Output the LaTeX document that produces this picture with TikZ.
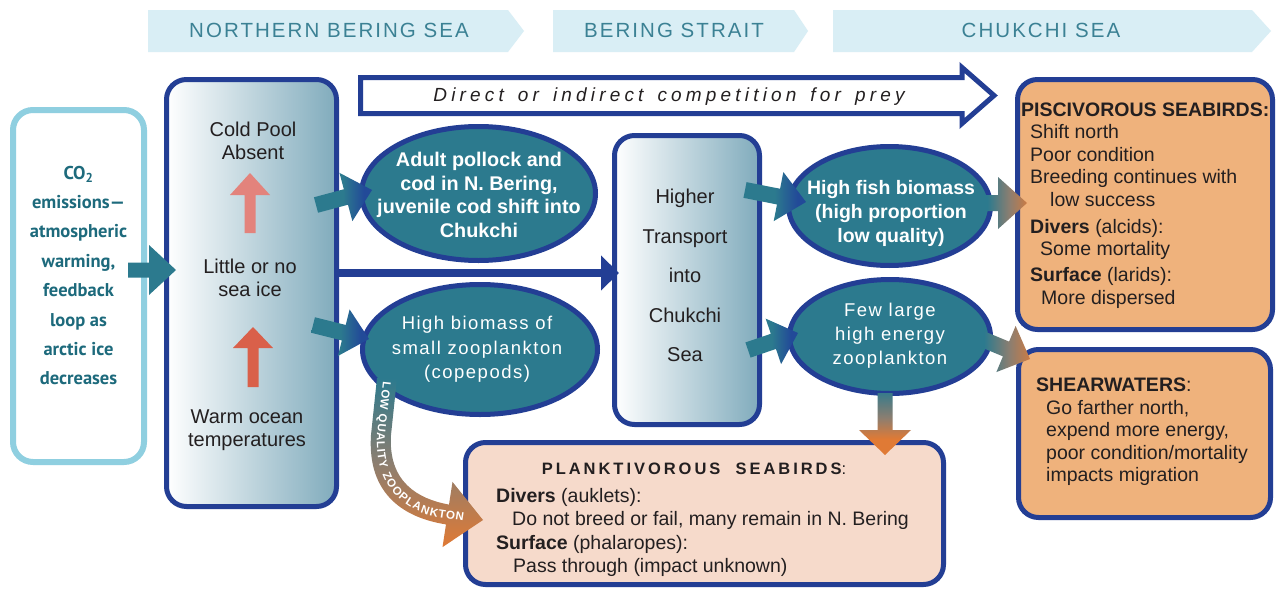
\documentclass[tikz,border=0pt]{standalone}
\usepackage{fontspec}
\setmainfont{Liberation Sans}
\newfontfamily\cofont{PT Sans}
\newfontfamily\bannerfont[LetterSpace=10]{Liberation Sans}
\newfontfamily\dirfont[LetterSpace=22]{Liberation Sans}
\newfontfamily\ellfont[LetterSpace=8]{Liberation Sans}
\newfontfamily\plankfont[LetterSpace=18]{Liberation Sans}
\usetikzlibrary{calc,shapes.geometric,arrows.meta,decorations.text}

\definecolor{navyb}{RGB}{35,62,148}
\definecolor{tealf}{RGB}{44,122,142}
\definecolor{bannerf}{RGB}{217,238,245}
\definecolor{bannert}{RGB}{59,129,148}
\definecolor{cobord}{RGB}{143,207,224}
\definecolor{cotext}{RGB}{29,106,124}
\definecolor{gradr}{RGB}{128,171,188}
\definecolor{pisc}{RGB}{239,178,124}
\definecolor{plank}{RGB}{246,218,203}
\definecolor{orangea}{RGB}{224,122,53}
\definecolor{greymid}{RGB}{140,126,112}
\definecolor{salmona}{RGB}{227,131,124}
\definecolor{salmonb}{RGB}{217,96,74}
\definecolor{darktext}{RGB}{35,31,32}
\definecolor{headblue}{RGB}{34,74,152}

\pgfdeclarehorizontalshading{tealblue}{100bp}{color(0bp)=(tealf); color(50bp)=(tealf); color(68bp)=(headblue); color(100bp)=(headblue)}
\pgfdeclarehorizontalshading{tealorange}{100bp}{color(0bp)=(tealf); color(30bp)=(tealf); color(55bp)=(greymid); color(82bp)=(orangea); color(100bp)=(orangea)}
\pgfdeclarehorizontalshading{tealorangedown}{100bp}{color(0bp)=(tealf); color(22bp)=(tealf); color(45bp)=(greymid); color(62bp)=(orangea); color(100bp)=(orangea)}

% block arrow: #1 style, #2 start, #3 tip, #4 half shaft, #5 half head, #6 head length
\newcommand\blkarr[6]{%
  \coordinate (ba-h) at ($(#3)!#6!(#2)$);
  \path[#1] ($(#2)!#4!90:(#3)$) -- ($(ba-h)!#4!90:(#3)$) -- ($(ba-h)!#5!90:(#3)$) -- (#3)
    -- ($(ba-h)!#5!-90:(#3)$) -- ($(ba-h)!#4!-90:(#3)$) -- ($(#2)!#4!-90:(#3)$) -- cycle;%
}

\begin{document}
\begin{tikzpicture}[x=1pt,y=1pt,
  bannertext/.style={font=\bannerfont\fontsize{20.5}{24}\selectfont, text=bannert, inner sep=0pt, anchor=base},
  gbox/.style={draw=navyb, line width=5pt, rounded corners=20pt, left color=white, right color=gradr, inner sep=0pt},
  obox/.style={draw=navyb, line width=5pt, rounded corners=20pt, inner sep=0pt},
  ell/.style={ellipse, draw=navyb, line width=5pt, fill=tealf, inner sep=0pt},
  dtext/.style={font=\fontsize{20}{23}\selectfont, align=center, text=darktext, inner sep=0pt},
  etext/.style={align=center, text=white, inner sep=0pt},
  ptext/.style={font=\fontsize{19.5}{22}\selectfont, text=darktext, inner sep=0pt, anchor=base west},
  stext/.style={font=\fontsize{19.5}{22}\selectfont, text=darktext, inner sep=0pt, anchor=base west},
  tealarr/.style={shading=tealblue},
  mixarr/.style={shading=tealorange}
]
\useasboundingbox (0,0) rectangle (1280,-589);
\fill[white] (0,0) rectangle (1280,-589);

% banners
\fill[bannerf] (148,-10) -- (508,-10) -- (524,-31) -- (508,-52) -- (148,-52) -- cycle;
\fill[bannerf] (553,-10) -- (794,-10) -- (808,-31) -- (794,-52) -- (553,-52) -- cycle;
\fill[bannerf] (833,-10) -- (1252,-10) -- (1271,-31) -- (1252,-52) -- (833,-52) -- cycle;
\node[bannertext] (bn1) at (329,-37.5) {NORTHERN BERING SEA};
\node[bannertext] (bn2) at (674,-37.5) {BERING STRAIT};
\node[bannertext] (bn3) at (1041,-37.5) {CHUKCHI SEA};

% competition arrow
\draw[navyb, line width=5pt, fill=white, line join=miter]
  (360.5,-77.5) -- (962,-77.5) -- (962,-67.5) -- (994,-95.5) -- (962,-123.5) -- (962,-113.5) -- (360.5,-113.5) -- cycle;
\node[font=\dirfont\itshape\fontsize{19}{22}\selectfont, text=darktext, inner sep=0pt, anchor=base] (comp) at (669,-101)
  {Direct\hspace{14pt}or\hspace{14pt}indirect\hspace{14pt}competition\hspace{14pt}for\hspace{14pt}prey};

% CO2 box
\node[draw=cobord, line width=6pt, rounded corners=20pt, fill=white, minimum width=131pt, minimum height=352pt, inner sep=0pt] (co) at (78.5,-286) {};
\node[font=\cofont\bfseries\fontsize{18.5}{29.4}\selectfont, text=cotext, align=center, inner sep=0pt] (cot) at (78.5,-275.5)
  {CO\textsubscript{2}\\emissions—\\atmospheric\\warming,\\feedback\\loop as\\arctic ice\\decreases};

% main box
\node[gbox, minimum width=170pt, minimum height=427pt] (mb) at (251.5,-293) {};
\node[dtext] (t1) at (253,-141) {Cold Pool\\Absent};
\node[dtext] (t2) at (250,-278) {Little or no\\sea ice};
\node[dtext] (t3) at (247,-430.5) {Warm ocean\\temperatures};
\coordinate (u1s) at (250,-233); \coordinate (u1e) at (250,-173);
\blkarr{fill=salmona}{u1s}{u1e}{5.5pt}{20pt}{22pt}
\coordinate (u2s) at (253,-387); \coordinate (u2e) at (253,-327);
\blkarr{fill=salmonb}{u2s}{u2e}{5.5pt}{20pt}{21pt}

% middle box
\node[gbox, minimum width=145pt, minimum height=289pt] (mid) at (687,-280) {};
\node[dtext, font=\fontsize{20}{39.5}\selectfont] (t4) at (685,-275.7) {Higher\\Transport\\into\\Chukchi\\Sea};

% ellipses
\node[ell, minimum width=234pt, minimum height=134pt] (e1) at (478.5,-193.5) {};
\node[etext, font=\bfseries\fontsize{19.8}{23.5}\selectfont] (et1) at (479,-195) {Adult pollock and\\cod in N. Bering,\\juvenile cod shift into\\Chukchi};
\node[ell, minimum width=235pt, minimum height=130pt] (e2) at (480,-349.5) {};
\node[etext, font=\ellfont\fontsize{18.5}{24.5}\selectfont] (et2) at (477,-349.5) {High biomass of\\small zooplankton\\(copepods)};
\node[ell, minimum width=202pt, minimum height=119pt] (e3) at (889.5,-206) {};
\node[etext, font=\bfseries\fontsize{19.5}{24}\selectfont] (et3) at (891,-213.7) {High fish biomass\\(high proportion\\low quality)};
\node[ell, minimum width=201pt, minimum height=114pt] (e4) at (890,-336.5) {};
\node[etext, font=\ellfont\fontsize{18.5}{24}\selectfont] (et4) at (890,-336) {Few large\\high energy\\zooplankton};

% seabird boxes
\node[obox, fill=pisc, minimum width=255pt, minimum height=250pt] (pb) at (1145,-204.5) {};
\node[obox, fill=pisc, minimum width=252pt, minimum height=168pt] (sb) at (1144.5,-433.5) {};
\node[obox, fill=plank, minimum width=478pt, minimum height=142pt] (kb) at (704.5,-513.5) {};

\node[ptext] (p0) at (1021,-116) {\bfseries PISCIVOROUS SEABIRDS:};
\node[ptext] (p1) at (1030,-138) {Shift north};
\node[ptext] (p2) at (1030,-161) {Poor condition};
\node[ptext] (p3) at (1030,-183) {Breeding continues with};
\node[ptext] (p4) at (1050,-206) {low success};
\node[ptext] (p5) at (1030,-233) {\textbf{Divers} (alcids):};
\node[ptext] (p6) at (1040,-255) {Some mortality};
\node[ptext] (p7) at (1030,-281) {\textbf{Surface} (larids):};
\node[ptext] (p8) at (1041,-304) {More dispersed};

\node[stext] (s0) at (1036,-391) {\textbf{SHEARWATERS}:};
\node[stext] (s1) at (1046,-414) {Go farther north,};
\node[stext] (s2) at (1046,-436) {expend more energy,};
\node[stext] (s3) at (1046,-459) {poor condition/mortality};
\node[stext] (s4) at (1046,-481) {impacts migration};

\node[font=\plankfont\bfseries\fontsize{16.5}{20}\selectfont, text=darktext, inner sep=0pt, anchor=base] (k0) at (694,-474) {PLANKTIVOROUS\ \ SEABIRDS\mdseries:};
\node[ptext] (k1) at (496,-502) {\textbf{Divers} (auklets):};
\node[ptext] (k2) at (512,-525) {Do not breed or fail, many remain in N. Bering};
\node[ptext] (k3) at (496,-549) {\textbf{Surface} (phalaropes):};
\node[ptext] (k4) at (513,-572) {Pass through (impact unknown)};

% connectors
\draw[navyb, line width=8pt, -{Triangle[width=34pt,length=18pt]}] (mb.east |- 0,-273) -- (619,-273);

\coordinate (a0s) at (128,-270); \coordinate (a0e) at (176,-270);
\blkarr{fill=tealf}{a0s}{a0e}{7.5pt}{25pt}{27pt}
\coordinate (a1s) at (316,-205); \coordinate (a1e) at (372,-190);
\blkarr{tealarr}{a1s}{a1e}{8pt}{25pt}{27pt}
\coordinate (a2s) at (313,-325); \coordinate (a2e) at (369,-339);
\blkarr{tealarr}{a2s}{a2e}{8pt}{24pt}{26pt}
\coordinate (a3s) at (745,-190); \coordinate (a3e) at (806,-202);
\blkarr{tealarr}{a3s}{a3e}{8pt}{25pt}{28pt}
\coordinate (a4s) at (748,-350); \coordinate (a4e) at (798,-333);
\blkarr{tealarr}{a4s}{a4e}{8pt}{24pt}{26pt}
\coordinate (a5s) at (983,-203); \coordinate (a5e) at (1027,-203);
\blkarr{mixarr}{a5s}{a5e}{8pt}{26pt}{29pt}
\coordinate (a6s) at (982,-339); \coordinate (a6e) at (1030,-359);
\blkarr{mixarr}{a6s}{a6e}{8pt}{25pt}{26pt}
\coordinate (a7s) at (885,-393); \coordinate (a7e) at (885,-455);
\blkarr{shading=tealorangedown, shading angle=-90}{a7s}{a7e}{7.5pt}{26pt}{25pt}

% curved low quality arrow
\shade[top color=tealf, bottom color=orangea, middle color=greymid]
  (377,-378) -- (371,-435) .. controls (367,-495) and (405,-518) .. (446,-524.4)
  -- (442.5,-547.1) -- (483,-520) -- (452.5,-481.9) -- (449,-504.6)
  .. controls (418,-499) and (388,-482) .. (391,-435) -- (397,-378) -- cycle;
\path[decorate, decoration={text along path, text align=fit to path, raise=-4pt,
  text={|\fontsize{11.5}{12}\selectfont\bfseries\color{white}|LOW QUALITY ZOOPLANKTON}}]
  (387,-382) -- (381,-435) .. controls (378,-489) and (412,-511) .. (447.5,-514.5) -- (464,-517);
\end{tikzpicture}
\end{document}
